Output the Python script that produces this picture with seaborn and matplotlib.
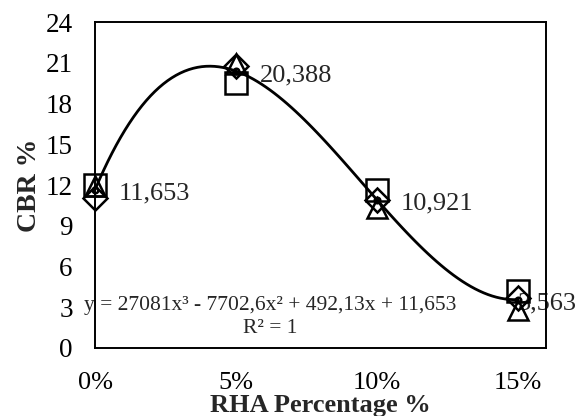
import numpy as np
import pandas as pd
import matplotlib
matplotlib.use("Agg")
import matplotlib.pyplot as plt
import seaborn as sns

# data
rha = [0.0, 0.05, 0.10, 0.15]
rha_labels = ['0%', '5%', '10%', '15%']
cbr_square = [12.0, 19.5, 11.6, 4.2]
cbr_triangle = [11.9, 20.9, 10.3, 2.8]
cbr_diamond = [11.06, 20.76, 10.86, 3.69]
cbr_avg = [11.653, 20.388, 10.921, 3.563]
avg_labels = ['11,653', '20,388', '10,921', '3,563']

sns.set_style('white')
plt.rcParams['font.family'] = ['Liberation Serif', 'DejaVu Serif']

fig = plt.figure(figsize=(5.85, 4.16), dpi=100)
ax = fig.add_axes([0.1624, 0.1635, 0.7709, 0.7835])

df = pd.DataFrame({'rha': rha, 'avg': cbr_avg})

# cubic trendline through the averages
sns.regplot(data=df, x='rha', y='avg', order=3, ci=None, scatter=False,
            line_kws={'color': 'black', 'lw': 2.0}, ax=ax)

mk = dict(mfc='none', mec='black', mew=1.8, ls='none', zorder=4, clip_on=False)
ax.plot(rha, cbr_square, marker='s', ms=16, **mk)
ax.plot(rha, cbr_diamond, marker='D', ms=12, **mk)
ax.plot(rha, cbr_triangle, marker='^', ms=15, **mk)
ax.plot(rha, cbr_avg, marker='o', ms=4, **mk)

# data labels
for i, (x, y) in enumerate(zip(rha, cbr_avg)):
    off = 17 if i < 3 else 0
    ax.annotate(avg_labels[i], (x, y), xytext=(off, -3), textcoords='offset points',
                ha='left', va='center', fontsize=19, zorder=2)

ax.text(0.0621, 2.3, 'y = 27081x\u00b3 - 7702,6x\u00b2 + 492,13x + 11,653\nR\u00b2 = 1',
        ha='center', va='center', fontsize=15.5, linespacing=1.3, zorder=2)

ax.set_xlim(0, 0.16)
ax.set_ylim(0, 24)
ax.set_xticks(rha)
ax.set_xticklabels(rha_labels)
ax.set_yticks(range(0, 25, 3))
ax.tick_params(axis='x', length=0, pad=17, labelsize=19, colors='black')
ax.tick_params(axis='y', length=0, pad=16, labelsize=19.5, colors='black')
for s in ax.spines.values():
    s.set_color('black')
    s.set_linewidth(1.4)

ax.set_xlabel('RHA Percentage %', fontsize=19, fontweight='bold')
ax.set_ylabel('CBR %', fontsize=20, fontweight='bold')
ax.xaxis.set_label_coords(0.5, -0.142)
ax.yaxis.set_label_coords(-0.117, 0.5)

fig.savefig('out.png', dpi=100)
